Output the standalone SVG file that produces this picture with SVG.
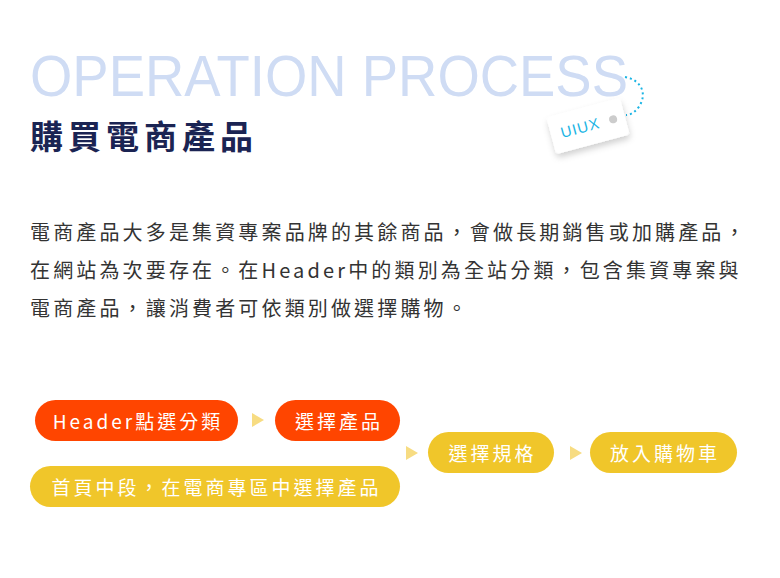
<svg xmlns="http://www.w3.org/2000/svg" width="780" height="578" viewBox="0 0 780 578">
  <defs>
    <style>
      .cjk{font-family:"Noto Sans CJK TC","Noto Sans",sans-serif}
      .body{font-size:20px;fill:#333;letter-spacing:3.15px}
      .pilltxt{font-size:19px;fill:#fff;letter-spacing:3px;text-anchor:middle;dominant-baseline:central}
      .red{fill:#ff4500}
      .yel{fill:#f0c62a}
      .arr{fill:#f7dc82}
    </style>
    <filter id="sh" x="-30%" y="-30%" width="160%" height="180%">
      <feDropShadow dx="0" dy="4" stdDeviation="3" flood-color="#000" flood-opacity="0.18"/>
    </filter>
    <polygon id="tri" points="0,0 12,7 0,14"/>
  </defs>
  <rect width="780" height="578" fill="#fff"/>

  <g id="header">
    <text x="30" y="96" font-family="'Liberation Sans',Arial,sans-serif" font-size="58" fill="#cfdcf4" textLength="598" lengthAdjust="spacingAndGlyphs">OPERATION PROCESS</text>
    <text x="30" y="149" class="cjk" font-size="33" font-weight="bold" fill="#1b2453" letter-spacing="5">購買電商產品</text>
  </g>

  <g id="tag">
    <path d="M625,77 C642,80 648,95 638,108 C634,113 630,115 626,115" fill="none" stroke="#1ab4e4" stroke-width="2" stroke-dasharray="2,3"/>
    <g transform="translate(588,126) rotate(-15)">
      <rect x="-38" y="-19" width="76" height="38" rx="4" fill="#fff" filter="url(#sh)"/>
      <circle cx="26" cy="0" r="4" fill="#cccccc"/>
      <text x="-8" y="5" text-anchor="middle" font-family="'Liberation Sans',Arial,sans-serif" font-size="15" fill="#1ab4e4" letter-spacing="1">UIUX</text>
    </g>
  </g>

  <g id="description" class="cjk body">
    <text x="30" y="240">電商產品大多是集資專案品牌的其餘商品，會做長期銷售或加購產品，</text>
    <text x="30" y="278">在網站為次要存在。在Header中的類別為全站分類，包含集資專案與</text>
    <text x="30" y="316">電商產品，讓消費者可依類別做選擇購物。</text>
  </g>

  <g id="connectors" class="arr">
    <use href="#tri" x="252" y="413"/>
    <use href="#tri" x="406" y="446"/>
    <use href="#tri" x="570" y="446"/>
  </g>

  <g id="n1">
    <rect class="red" x="35" y="400" width="203" height="41" rx="20.5"/>
    <text class="cjk pilltxt" x="138" y="420">Header點選分類</text>
  </g>
  <g id="n2">
    <rect class="red" x="275" y="400" width="125" height="41" rx="20.5"/>
    <text class="cjk pilltxt" x="339" y="420">選擇產品</text>
  </g>
  <g id="n3">
    <rect class="yel" x="30" y="466" width="370" height="41" rx="20.5"/>
    <text class="cjk pilltxt" x="216.5" y="486">首頁中段，在電商專區中選擇產品</text>
  </g>
  <g id="n4">
    <rect class="yel" x="428" y="432" width="126" height="41" rx="20.5"/>
    <text class="cjk pilltxt" x="492.5" y="452">選擇規格</text>
  </g>
  <g id="n5">
    <rect class="yel" x="590" y="432" width="147" height="41" rx="20.5"/>
    <text class="cjk pilltxt" x="665" y="452">放入購物車</text>
  </g>
</svg>
